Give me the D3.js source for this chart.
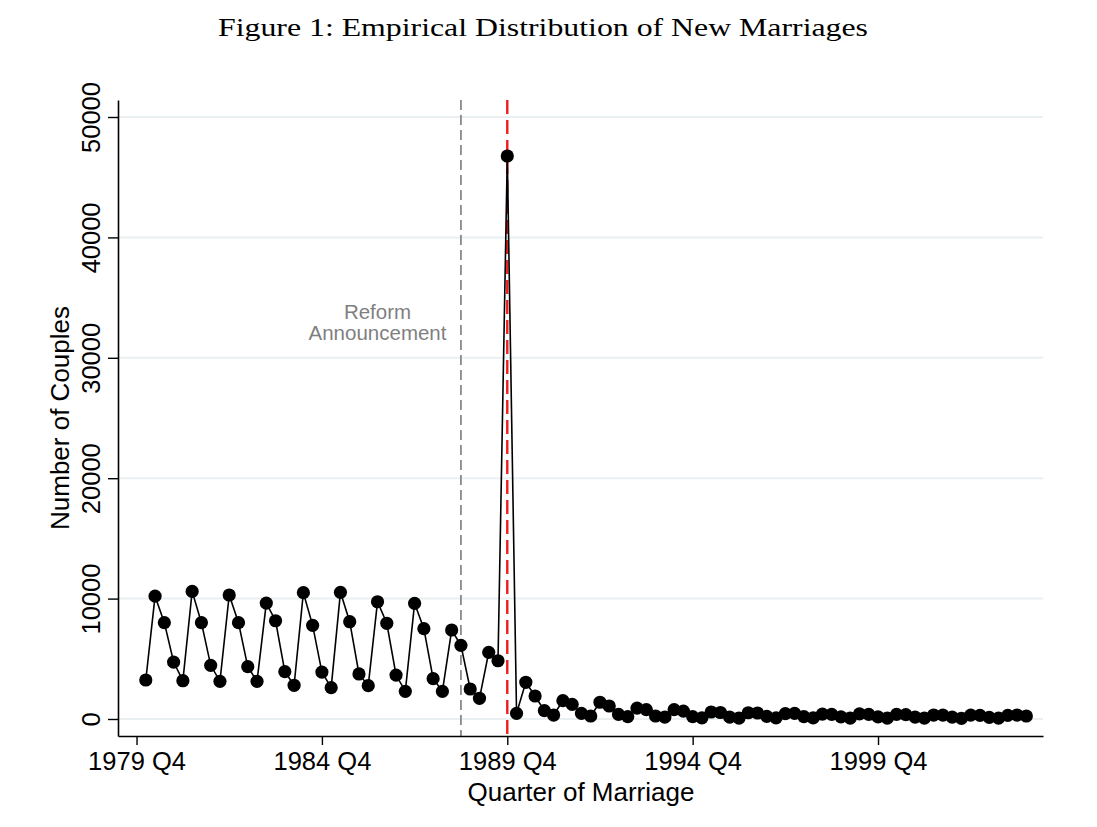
<!DOCTYPE html>
<html>
<head>
<meta charset="utf-8">
<script src="https://cdn.jsdelivr.net/npm/d3@7"></script>
<style>
  html, body { margin: 0; padding: 0; background: #fff; }
  svg { display: block; }
</style>
</head>
<body>
<svg id="chart" width="1097" height="827"></svg>
<script>
// ---- data ----
const startYear = 1980, startQuarter = 1;   // first observation: 1980 Q1
const couples = [
  3240, 10200, 8000, 4730,
  3180, 10600, 8000, 4460,
  3130, 10300, 8000, 4350,
  3130, 9630, 8160, 3930,
  2800, 10490, 7780, 3900,
  2600, 10520, 8080, 3740,
  2770, 9740, 7950, 3650,
  2300, 9610, 7500, 3350,
  2300, 7390, 6120, 2490,
  1720, 5540, 4840, 46760,
  470, 3050, 1910, 690,
  330, 1520, 1220, 470,
  250, 1390, 1080, 380,
  200, 900, 780, 250,
  150, 780, 650, 200,
  100, 580, 540, 150,
  80, 520, 500, 220,
  100, 450, 470, 200,
  90, 400, 380, 180,
  80, 420, 390, 170,
  70, 380, 360, 160,
  80, 330, 320, 150,
  60, 320, 300, 140,
  70, 300, 330, 250
];
const quarterLabels = couples.map((_, i) => {
  const q0 = startQuarter - 1 + i;
  return (startYear + Math.floor(q0 / 4)) + " Q" + (q0 % 4 + 1);
});
const xTickLabels = ["1979 Q4", "1984 Q4", "1989 Q4", "1994 Q4", "1999 Q4"];
const yTicks = [0, 10000, 20000, 30000, 40000, 50000];
const announcementQuarter = "1988 Q3";
const reformQuarter = "1989 Q4";
const announcementText = ["Reform", "Announcement"];
const titleText = "Figure 1: Empirical Distribution of New Marriages";
const xTitle = "Quarter of Marriage";
const yTitle = "Number of Couples";

(function () {
// quarter label -> running quarter index (1979 Q4 = 0)
function qIndex(label) {
  const [yy, q] = label.split(" Q").map(Number);
  return (yy - 1979) * 4 + (q - 4);
}

// ---- layout ----
const svg = d3.select("#chart");
const pLeft = 118, pRight = 1043, pTop = 100, pBottom = 736;

const x = d3.scaleLinear().domain([-2, 97.8]).range([pLeft, pRight]);
const y = d3.scaleLinear().domain([-1412, 51412]).range([pBottom, pTop]);

svg.append("rect").attr("width", 1097).attr("height", 827).attr("fill", "#fff");

// title
svg.append("text")
  .attr("x", 543).attr("y", 36)
  .attr("text-anchor", "middle")
  .attr("font-family", "'Liberation Serif', 'DejaVu Serif', serif")
  .attr("font-size", 25)
  .attr("textLength", 650)
  .attr("lengthAdjust", "spacingAndGlyphs")
  .attr("fill", "#000")
  .text(titleText);

// gridlines
svg.append("g").selectAll("line").data(yTicks).join("line")
  .attr("x1", pLeft).attr("x2", pRight)
  .attr("y1", d => y(d)).attr("y2", d => y(d))
  .attr("stroke", "#eaf0f1").attr("stroke-width", 2);

// reference lines
svg.append("line")
  .attr("x1", x(qIndex(announcementQuarter))).attr("x2", x(qIndex(announcementQuarter)))
  .attr("y1", pTop).attr("y2", pBottom)
  .attr("stroke", "#8a8a8a").attr("stroke-width", 1.8)
  .attr("stroke-dasharray", "10,5");

svg.append("line")
  .attr("x1", x(qIndex(reformQuarter))).attr("x2", x(qIndex(reformQuarter)))
  .attr("y1", pTop).attr("y2", pBottom)
  .attr("stroke", "#ee1c1c").attr("stroke-width", 2.4)
  .attr("stroke-dasharray", "14,6");

// annotation
const ann = svg.append("text")
  .attr("text-anchor", "middle")
  .attr("font-family", "'Liberation Sans', Arial, sans-serif")
  .attr("font-size", 20.5)
  .attr("fill", "#7f7f7f");
announcementText.forEach((t, i) => {
  ann.append("tspan").attr("x", 377.5).attr("y", 319 + i * 21).text(t);
});

// data line + markers
const pts = couples.map((v, i) => ({ q: qIndex(quarterLabels[i]), v }));
svg.append("path")
  .datum(pts)
  .attr("fill", "none")
  .attr("stroke", "#000")
  .attr("stroke-width", 1.6)
  .attr("d", d3.line().x(d => x(d.q)).y(d => y(d.v)));

svg.append("g").selectAll("circle").data(pts).join("circle")
  .attr("cx", d => x(d.q)).attr("cy", d => y(d.v))
  .attr("r", 6.6).attr("fill", "#000");

// axes
const font = "'Liberation Sans', Arial, sans-serif";
const xAxis = d3.axisBottom(x)
  .tickValues(xTickLabels.map(qIndex))
  .tickFormat((d, i) => xTickLabels[i])
  .tickSize(9).tickPadding(6).tickSizeOuter(0);
const gx = svg.append("g").attr("transform", `translate(0,${pBottom})`).call(xAxis);
gx.select(".domain").attr("stroke", "#000").attr("stroke-width", 1.6);
gx.selectAll(".tick line").attr("stroke", "#000").attr("stroke-width", 1.4);
gx.selectAll(".tick text").attr("font-family", font).attr("font-size", 25.5).attr("fill", "#000")
  .attr("dy", "0.75em");

const yAxis = d3.axisLeft(y)
  .tickValues(yTicks)
  .tickFormat(d3.format("d"))
  .tickSize(10).tickPadding(0).tickSizeOuter(0);
const gy = svg.append("g").attr("transform", `translate(${pLeft},0)`).call(yAxis);
gy.select(".domain").attr("stroke", "#000").attr("stroke-width", 1.6);
gy.selectAll(".tick line").attr("stroke", "#000").attr("stroke-width", 1.4);
gy.selectAll(".tick text")
  .attr("font-family", font).attr("font-size", 25.5).attr("fill", "#000")
  .attr("text-anchor", "middle")
  .attr("x", null).attr("dy", null)
  .attr("transform", "translate(-18,0) rotate(-90)")
  .attr("y", 0);

// axis titles
svg.append("text")
  .attr("x", 581).attr("y", 801)
  .attr("text-anchor", "middle")
  .attr("font-family", font).attr("font-size", 26)
  .attr("fill", "#000")
  .text(xTitle);

svg.append("text")
  .attr("transform", "translate(69,418) rotate(-90)")
  .attr("text-anchor", "middle")
  .attr("font-family", font).attr("font-size", 26)
  .attr("fill", "#000")
  .text(yTitle);
})();
</script>
</body>
</html>
